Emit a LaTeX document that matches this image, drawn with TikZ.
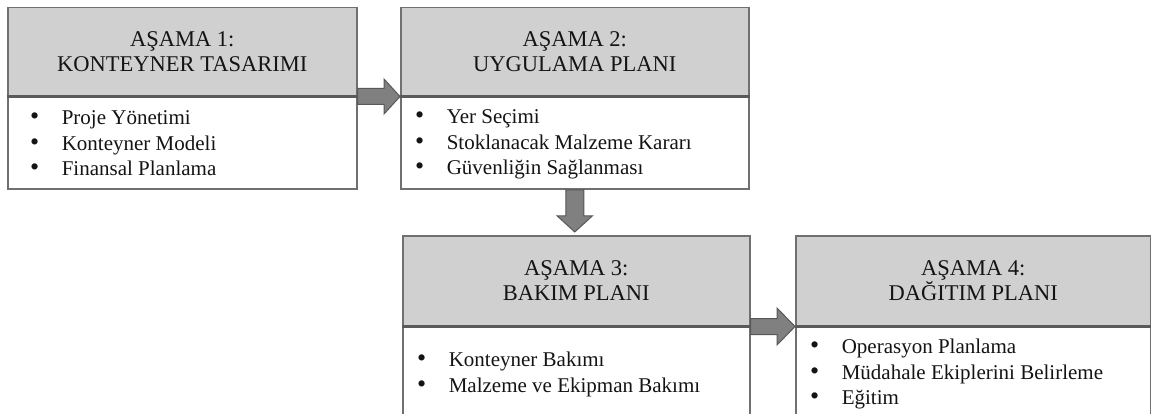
\documentclass[tikz,border=0pt]{standalone}
\usepackage{fontspec}
\setmainfont{Liberation Serif}
\usetikzlibrary{positioning,calc}

\definecolor{headgray}{RGB}{208,208,208}
\definecolor{edgegray}{RGB}{112,112,112}
\definecolor{sepgray}{RGB}{90,90,90}
\definecolor{arrowgray}{RGB}{128,128,128}
\definecolor{arrowedge}{RGB}{88,88,88}
\definecolor{textblack}{RGB}{20,20,20}

\newcommand{\bul}{{\fontsize{26}{25.5}\selectfont\textbullet}}

\tikzset{
  stagehead/.style={draw=edgegray, line width=1.5pt, fill=headgray, anchor=north west,
    inner sep=0pt, align=center, text=textblack, font=\fontsize{22.5}{25}\selectfont},
  stagebody/.style={draw=edgegray, line width=1.5pt, fill=white, inner sep=0pt},
  sepline/.style={draw=sepgray, line width=2.5pt},
  itemlist/.style={anchor=north west, inner sep=0pt, text=textblack,
    font=\fontsize{21}{25.5}\selectfont},
  blockarrow/.style={fill=arrowgray, draw=arrowedge, line width=1pt, line join=miter}
}

\begin{document}
\begin{tikzpicture}[x=1pt,y=-1pt]
    \useasboundingbox (0,0) rectangle (1151,414);
    \clip (0,0) rectangle (1151,414);

    % Stage 1
    \node (h1) [stagehead, minimum width=349pt, minimum height=88pt] at (7,7) {AŞAMA 1:\\KONTEYNER TASARIMI};
    \node (b1) [stagebody, minimum width=349pt, minimum height=92pt, below=0pt of h1] {};
    \draw[sepline] (h1.south west) -- (h1.south east);
    \node (l1) [itemlist] at ($(b1.north west)+(23,10)$) {\begin{tabular}{@{}l@{\hspace{22.5pt}}l@{}}
        \bul & Proje Yönetimi\\
        \bul & Konteyner Modeli\\
        \bul & Finansal Planlama
      \end{tabular}};

    % Stage 2
    \node (h2) [stagehead, minimum width=348pt, minimum height=88pt] at (400,7) {AŞAMA 2:\\UYGULAMA PLANI};
    \node (b2) [stagebody, minimum width=348pt, minimum height=92pt, below=0pt of h2] {};
    \draw[sepline] (h2.south west) -- (h2.south east);
    \node (l2) [itemlist] at ($(b2.north west)+(15,9)$) {\begin{tabular}{@{}l@{\hspace{22.5pt}}l@{}}
        \bul & Yer Seçimi\\
        \bul & Stoklanacak Malzeme Kararı\\
        \bul & Güvenliğin Sağlanması
      \end{tabular}};

    % Stage 3
    \node (h3) [stagehead, minimum width=347pt, minimum height=90pt] at (402,235) {AŞAMA 3:\\BAKIM PLANI};
    \node (b3) [stagebody, minimum width=347pt, minimum height=120pt, below=0pt of h3] {};
    \draw[sepline] (h3.south west) -- (h3.south east);
    \node (l3) [itemlist] at ($(b3.north west)+(15,22)$) {\begin{tabular}{@{}l@{\hspace{22.5pt}}l@{}}
        \bul & Konteyner Bakımı\\
        \bul & Malzeme ve Ekipman Bakımı
      \end{tabular}};

    % Stage 4
    \node (h4) [stagehead, minimum width=355pt, minimum height=90pt] at (795,235) {AŞAMA 4:\\DAĞITIM PLANI};
    \node (b4) [stagebody, minimum width=355pt, minimum height=120pt, below=0pt of h4] {};
    \draw[sepline] (h4.south west) -- (h4.south east);
    \node (l4) [itemlist] at ($(b4.north west)+(15,9)$) {\begin{tabular}{@{}l@{\hspace{22.5pt}}l@{}}
        \bul & Operasyon Planlama\\
        \bul & Müdahale Ekiplerini Belirleme\\
        \bul & Eğitim
      \end{tabular}};

    % Arrows between stages
    \filldraw[blockarrow] ($(h1.south east)+(0,-8)$) -- ($(h2.south west)+(-16,-8)$)
      -- ($(h2.south west)+(-16,-17.5)$) -- (h2.south west) -- ($(h2.south west)+(-16,17.5)$)
      -- ($(h2.south west)+(-16,8)$) -- ($(h1.south east)+(0,8)$) -- cycle;
    \filldraw[blockarrow] ($(b2.south)+(-9,0)$) -- ($(b2.south)+(-9,26)$)
      -- ($(b2.south)+(-17.5,26)$) -- ($(b2.south |- h3.north)+(0,-3)$) -- ($(b2.south)+(17.5,26)$)
      -- ($(b2.south)+(9,26)$) -- ($(b2.south)+(9,0)$) -- cycle;
    \filldraw[blockarrow] ($(h3.south east)+(0,-8)$) -- ($(h4.south west)+(-18,-8)$)
      -- ($(h4.south west)+(-18,-18.5)$) -- (h4.south west) -- ($(h4.south west)+(-18,18.5)$)
      -- ($(h4.south west)+(-18,8)$) -- ($(h3.south east)+(0,8)$) -- cycle;
\end{tikzpicture}
\end{document}
